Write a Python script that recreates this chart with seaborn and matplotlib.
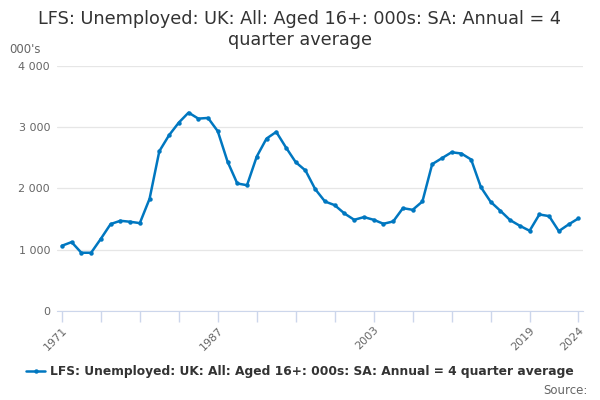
import pandas as pd
import matplotlib
matplotlib.use("Agg")
import matplotlib.pyplot as plt
import seaborn as sns
from matplotlib.ticker import FuncFormatter

# annual averages, thousands
years = list(range(1971, 2025))
unemployed = [1065, 1125, 951, 951, 1179, 1419, 1473, 1457, 1435, 1832,
              2609, 2870, 3076, 3239, 3141, 3152, 2935, 2440, 2082, 2054,
              2522, 2815, 2924, 2669, 2429, 2294, 1989, 1788, 1728, 1592,
              1489, 1533, 1489, 1424, 1462, 1679, 1652, 1788, 2397, 2495,
              2592, 2571, 2473, 2022, 1783, 1636, 1484, 1391, 1310, 1576,
              1549, 1304, 1413, 1511]
tick_years = list(range(1971, 2020, 4)) + [2024]
label_years = [1971, 1987, 2003, 2019, 2024]
series_name = "LFS: Unemployed: UK: All: Aged 16+: 000s: SA: Annual = 4 quarter average"

df = pd.DataFrame({"year": years, "value": unemployed})

sns.set_style("white")
plt.rcParams['font.family'] = ['DejaVu Sans']

fig = plt.figure(figsize=(6, 4), dpi=100)
ax = fig.add_axes([0.095, 0.2225, 0.877, 0.6125])

sns.lineplot(data=df, x="year", y="value", ax=ax, color="#0077c0",
             linewidth=1.8, marker="o", markersize=3.2, markeredgewidth=0,
             label=series_name, legend=False)

ax.set_xlim(1970.5, 2024.5)
ax.set_ylim(0, 4000)
ax.set_yticks([0, 1000, 2000, 3000, 4000])
ax.yaxis.set_major_formatter(FuncFormatter(lambda v, p: f"{int(v):,}".replace(",", " ")))
ax.set_xticks(tick_years)
ax.set_xticklabels([str(y) if y in label_years else "" for y in tick_years],
                   rotation=45, ha="right", rotation_mode="anchor")
ax.grid(axis="y", color="#e6e6e6", linewidth=0.9)
ax.grid(axis="x", visible=False)
for s in ["top", "right", "left"]:
    ax.spines[s].set_visible(False)
ax.spines["bottom"].set_color("#ccd6eb")
ax.tick_params(axis="x", length=8, width=1, color="#ccd6eb", labelcolor="#666666",
               labelsize=8, pad=2, direction="out", bottom=True)
ax.tick_params(axis="y", length=0, labelcolor="#666666", labelsize=8, pad=5)
ax.set_xlabel("")
ax.set_ylabel("")

fig.text(0.5, 0.975, "LFS: Unemployed: UK: All: Aged 16+: 000s: SA: Annual = 4\nquarter average",
         ha="center", va="top", fontsize=12.7, color="#333333", linespacing=1.2)
fig.text(0.015, 0.86, "000's", ha="left", va="bottom", fontsize=8.5, color="#666666")

handles, labels = ax.get_legend_handles_labels()
leg = fig.legend(handles, labels, loc="center", bbox_to_anchor=(0.5, 0.07),
                 frameon=False, prop={"weight": "bold", "size": 8.8},
                 handlelength=1.6, handletextpad=0.4)
for t in leg.get_texts():
    t.set_color("#333333")
fig.text(0.98, 0.025, "Source:", ha="right", va="center", fontsize=8.5, color="#666666")

plt.savefig("out.png", dpi=100)
